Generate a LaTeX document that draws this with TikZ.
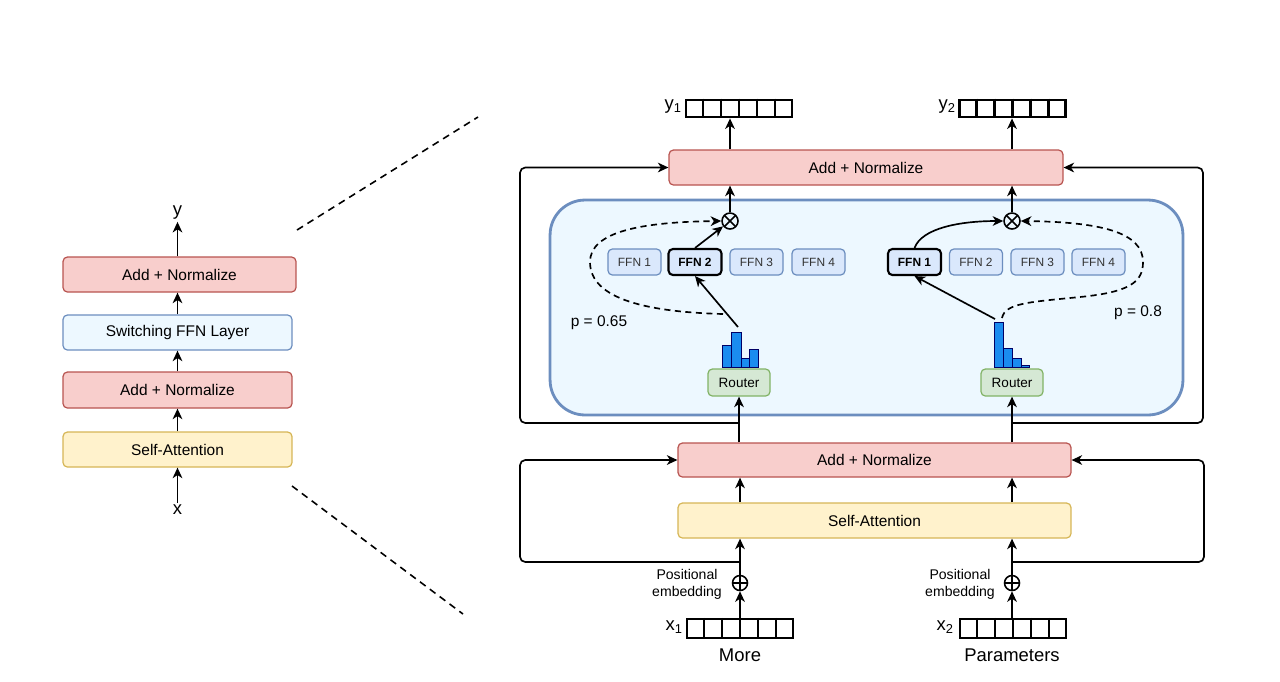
\documentclass[tikz,border=0pt]{standalone}
\usepackage{fontspec}
\setmainfont{Liberation Sans}
\usetikzlibrary{arrows.meta,calc}
\definecolor{redf}{HTML}{F8CECC}
\definecolor{redd}{HTML}{B85450}
\definecolor{yelf}{HTML}{FFF2CC}
\definecolor{yeld}{HTML}{D6B656}
\definecolor{bluf}{HTML}{DAE8FC}
\definecolor{blud}{HTML}{6C8EBF}
\definecolor{ltbl}{HTML}{EDF8FF}
\definecolor{grnf}{HTML}{D5E8D4}
\definecolor{grnd}{HTML}{82B366}
\definecolor{barf}{HTML}{1A8CF0}
\begin{document}
\begin{tikzpicture}[x=0.02cm,y=-0.02cm,
  box/.style={draw, rounded corners=2.5pt, line width=0.7pt, inner sep=0pt, font=\fontsize{8.8}{10}\selectfont},
  redbox/.style={box, fill=redf, draw=redd},
  yelbox/.style={box, fill=yelf, draw=yeld},
  swbox/.style={box, fill=ltbl, draw=blud},
  ffn/.style={box, fill=bluf, draw=blud, minimum width=1.06cm, minimum height=0.52cm, font=\fontsize{6.8}{8}\selectfont, text=black!80},
  ffnsel/.style={ffn, draw=black, line width=1.2pt, font=\fontsize{6.8}{8}\selectfont\bfseries, text=black},
  router/.style={box, fill=grnf, draw=grnd, minimum width=1.24cm, minimum height=0.54cm, font=\fontsize{7.7}{9}\selectfont},
  vec/.style={draw, line width=1.3pt, minimum width=2.12cm, minimum height=0.35cm, inner sep=0pt},
  otimes/.style={circle, draw, line width=0.9pt, minimum size=0.32cm, inner sep=0pt,
    path picture={\draw[line width=0.9pt] (path picture bounding box.north west)--(path picture bounding box.south east) (path picture bounding box.north east)--(path picture bounding box.south west);}},
  oplus/.style={circle, draw, line width=0.9pt, minimum size=0.30cm, inner sep=0pt,
    path picture={\draw[line width=0.9pt] (path picture bounding box.north)--(path picture bounding box.south) (path picture bounding box.east)--(path picture bounding box.west);}},
  arr/.style={-{Stealth[length=6pt,width=5.5pt,inset=1.8pt]}, line width=0.95pt},
  darr/.style={arr, dash pattern=on 3.5pt off 2.5pt},
  zoomline/.style={line width=0.9pt, dash pattern=on 4pt off 3pt},
  lbl/.style={inner sep=1pt, font=\fontsize{8.8}{10}\selectfont},
  biglbl/.style={inner sep=1pt, font=\fontsize{10.5}{12}\selectfont},
  bar/.style={fill=barf, draw=black!60!blue, line width=0.4pt}
]
\useasboundingbox (0,0) rectangle (1280,681);

% ---------- left column ----------
\node[redbox, minimum width=4.66cm, minimum height=0.70cm] (lan2) at (179.5,274.5) {Add + Normalize};
\node[swbox, minimum width=4.58cm, minimum height=0.70cm] (lsw) at (177.5,332.5) {Switching FFN Layer};
\node[redbox, minimum width=4.58cm, minimum height=0.72cm] (lan1) at (177.5,390) {Add + Normalize};
\node[yelbox, minimum width=4.58cm, minimum height=0.70cm] (lsa) at (177.5,449.5) {Self-Attention};
\node[biglbl] (ly) at (177.5,213) {y};
\node[biglbl] (lx) at (177.5,510) {x};
\draw[arr] (lx) -- (lsa.south);
\draw[arr] (lsa.north) -- (lan1.south);
\draw[arr] (lan1.north) -- (lsw.south);
\draw[arr] (lsw.north) -- (lsw.north |- lan2.south);
\draw[arr] (lsw.north |- lan2.north) -- (ly);

% zoom lines
\coordinate (za1) at (297,230);
\coordinate (za2) at (478,117);
\coordinate (zb1) at (292,486);
\coordinate (zb2) at (463,614);
\draw[zoomline] (za1) -- (za2);
\draw[zoomline] (zb1) -- (zb2);

% ---------- right part ----------
\node[draw=blud, fill=ltbl, line width=1.6pt, rounded corners=0.7cm, minimum width=12.66cm, minimum height=4.3cm] (moe) at (866.5,307.5) {};

\node[redbox, minimum width=7.88cm, minimum height=0.70cm] (tan) at (866,167.5) {Add + Normalize};
\node[redbox, minimum width=7.86cm, minimum height=0.68cm] (ban) at (874.5,460) {Add + Normalize};
\node[yelbox, minimum width=7.86cm, minimum height=0.70cm] (bsa) at (874.5,520.5) {Self-Attention};

% vectors
\node[vec] (y1) at (739,108.5) {};
\node[vec] (y2) at (1012.5,108.5) {};
\node[vec, minimum height=0.38cm] (x1) at (740,628.5) {};
\node[vec, minimum height=0.38cm] (x2) at (1013,628.5) {};
\foreach \v in {y1,y2,x1,x2}{
  \foreach \i in {1,...,5}{
    \draw[line width=1.3pt] ($(\v.north west)!\i/6!(\v.north east)$) -- ($(\v.south west)!\i/6!(\v.south east)$);
  }
}
\node[biglbl, anchor=east] (y1l) at (684,107) {y\textsubscript{1}};
\node[biglbl, anchor=east] (y2l) at (958,107) {y\textsubscript{2}};
\node[biglbl, anchor=east] (x1l) at (685,627) {x\textsubscript{1}};
\node[biglbl, anchor=east] (x2l) at (956,627) {x\textsubscript{2}};
\node[biglbl] (more) at (740,655) {More};
\node[biglbl] (params) at (1012,655) {Parameters};

% positional embedding
\node[oplus] (peL) at (740,583) {};
\node[oplus] (peR) at (1012,583) {};
\node[inner sep=0pt, align=center, font=\fontsize{8}{9.6}\selectfont] (petL) at (687,584.5) {Positional\\embedding};
\node[inner sep=0pt, align=center, font=\fontsize{8}{9.6}\selectfont] (petR) at (960,584.5) {Positional\\embedding};
\draw[arr] (x1.north -| peL) -- (peL.south);
\draw[arr] (x2.north -| peR) -- (peR.south);
\draw[arr] (peL.north) -- (peL |- bsa.south);
\draw[arr] (peR.north) -- (peR |- bsa.south);
\draw[arr] (peL |- bsa.north) -- (peL |- ban.south);
\draw[arr] (peR |- bsa.north) -- (peR |- ban.south);

% lower residual
\coordinate (jL2) at (740,562);
\coordinate (jR2) at (1012,562);
\draw[arr, rounded corners=3pt] (jL2) -- (520,562) -- (520,460) -- (ban.west);
\draw[arr, rounded corners=3pt] (jR2) -- (1204,562) -- (1204,460) -- (ban.east);

% routers
\node[router] (rL) at (739,382.5) {Router};
\node[router] (rR) at (1012,382.5) {Router};
\draw[arr] (rL.south |- ban.north) -- (rL.south);
\draw[arr] (rR.south |- ban.north) -- (rR.south);

% upper residual
\coordinate (jL) at (739,423);
\coordinate (jR) at (1012,423);
\draw[arr, rounded corners=3pt] (jL) -- (520,423) -- (520,167.5) -- (tan.west);
\draw[arr, rounded corners=3pt] (jR) -- (1203,423) -- (1203,167.5) -- (tan.east);

% histograms
\draw[bar] (722,345) rectangle (731,367);
\draw[bar] (731,332) rectangle (741,367);
\draw[bar] (741,358) rectangle (749,367);
\draw[bar] (749,349) rectangle (758,367);
\draw[bar] (994,322) rectangle (1003,367);
\draw[bar] (1003,348) rectangle (1012,367);
\draw[bar] (1012,358) rectangle (1021,367);
\draw[bar] (1021,365) rectangle (1029,367);

% FFN experts
\node[ffn] (fL1) at (634.5,262) {FFN 1};
\node[ffnsel] (fL2) at (695,262) {FFN 2};
\node[ffn] (fL3) at (756.5,262) {FFN 3};
\node[ffn] (fL4) at (818.5,262) {FFN 4};
\node[ffnsel] (fR1) at (914.5,262) {FFN 1};
\node[ffn] (fR2) at (976,262) {FFN 2};
\node[ffn] (fR3) at (1037.5,262) {FFN 3};
\node[ffn] (fR4) at (1098.5,262) {FFN 4};

% combine
\node[otimes] (xL) at (730,221) {};
\node[otimes] (xR) at (1012,221) {};
\draw[arr] (xL.north) -- (xL |- tan.south);
\draw[arr] (xR.north) -- (xR |- tan.south);
\draw[arr] (xL |- tan.north) -- (xL |- y1.south);
\draw[arr] (xR |- tan.north) -- (xR |- y2.south);

% routing arrows
\coordinate (hL) at (738,327);
\coordinate (hR) at (995,319);
\coordinate (dL) at (723,314);
\coordinate (dR) at (1002,318);
\draw[arr] (hL) -- (fL2.south);
\draw[arr] (fL2.north) -- (xL);
\draw[arr] (hR) -- (fR1.south);
\draw[arr] (fR1.north) .. controls (922,228) and (960,221) .. (xR.west);
\draw[darr] (dL) .. controls (650,312) and (590,300) .. (590,262) .. controls (590,232) and (640,222) .. (xL.west);
\draw[darr] (dR) .. controls (1005,303) and (1030,302) .. (1080,297) .. controls (1130,292) and (1143,282) .. (1143,262) .. controls (1143,232) and (1100,222) .. (xR.east);
\node[lbl] (pL) at (599,323) {p = 0.65};
\node[lbl] (pR) at (1138,313) {p = 0.8};
\end{tikzpicture}
\end{document}
